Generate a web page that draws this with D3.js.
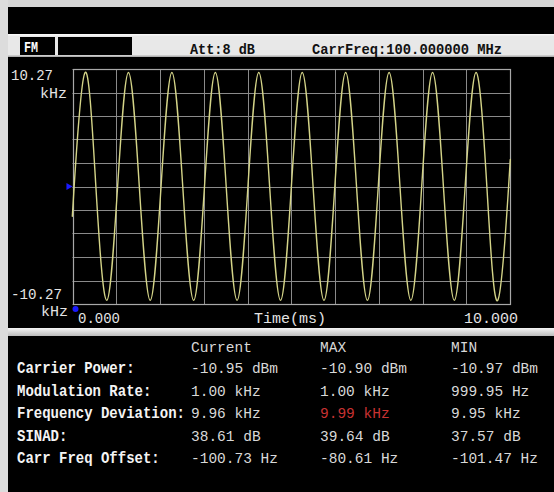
<!DOCTYPE html>
<html><head><meta charset="utf-8">
<script src="https://cdn.jsdelivr.net/npm/d3@7"></script>
<style>html,body{margin:0;padding:0;background:#000;}svg{display:block;}</style>
</head><body>
<script>
// ---- data ----
const timeMs = [0.000,0.038,0.286,0.534,0.783,1.031,1.279,1.527,1.776,2.024,2.272,2.520,2.769,3.017,3.265,3.513,3.762,4.010,4.258,4.506,4.755,5.003,5.251,5.499,5.748,5.996,6.244,6.492,6.741,6.989,7.237,7.485,7.734,7.982,8.230,8.478,8.727,8.975,9.223,9.471,9.720,9.968,10.000];
const devKHz = [-2.40,0,9.96,0,-9.95,0,9.96,0,-9.95,0,9.96,0,-9.95,0,9.96,0,-9.95,0,9.96,0,-9.95,0,9.96,0,-9.95,0,9.96,0,-9.95,0,9.96,0,-9.95,0,9.96,0,-9.95,0,9.96,0,-9.95,0,2.00];
const xDomain = [0, 10];
const yDomain = [-10.27, 10.27];
const xTickLabels = ["0.000", "10.000"];
const yTickLabels = ["10.27", "-10.27"];
const xAxisTitle = "Time(ms)";
const yUnit = "kHz";
const headerMode = "FM";
const headerAtt = "Att:8 dB";
const headerFreq = "CarrFreq:100.000000 MHz";
const colHeaders = ["Current", "MAX", "MIN"];
const rowLabels = ["Carrier Power:", "Modulation Rate:", "Frequency Deviation:", "SINAD:", "Carr Freq Offset:"];
const currentVals = ["-10.95 dBm", "1.00 kHz", "9.96 kHz", "38.61 dB", "-100.73 Hz"];
const maxVals = ["-10.90 dBm", "1.00 kHz", "9.99 kHz", "39.64 dB", "-80.61 Hz"];
const minVals = ["-10.97 dBm", "999.95 Hz", "9.95 kHz", "37.57 dB", "-101.47 Hz"];
const highlight = {row: 2, col: 1};

// ---- drawing ----
const W = 554, H = 492;
const svg = d3.select("body").append("svg").attr("width", W).attr("height", H);
const MONO = "'Liberation Mono','DejaVu Sans Mono',monospace";

svg.append("rect").attr("width", W).attr("height", H).attr("fill", "#000");
svg.append("rect").attr("x", 0).attr("y", 0).attr("width", W).attr("height", 7).attr("fill", "#d6d6d6");
svg.append("rect").attr("x", 0).attr("y", 0).attr("width", 8).attr("height", H).attr("fill", "#dcdcdc");
// header bar
svg.append("rect").attr("x", 8).attr("y", 34).attr("width", W - 8).attr("height", 23).attr("fill", "#e8e8e8");
svg.append("rect").attr("x", 8).attr("y", 34).attr("width", W - 8).attr("height", 1.5).attr("fill", "#f8f8f8");
svg.append("rect").attr("x", 8).attr("y", 55.5).attr("width", W - 8).attr("height", 1.5).attr("fill", "#b0b0b0");
svg.append("rect").attr("x", 20).attr("y", 37).attr("width", 35).attr("height", 18).attr("fill", "#000");
svg.append("rect").attr("x", 58).attr("y", 37).attr("width", 74).attr("height", 18).attr("fill", "#000");
svg.append("text").attr("x", 24).attr("y", 52).text(headerMode)
  .attr("font-family", MONO).attr("font-weight", "bold").attr("font-size", 14).attr("fill", "#fff")
  .attr("textLength", 14).attr("lengthAdjust", "spacingAndGlyphs");
svg.append("text").attr("x", 190).attr("y", 54).text(headerAtt)
  .attr("font-family", MONO).attr("font-weight", "bold").attr("font-size", 15).attr("fill", "#111")
  .attr("textLength", 65).attr("lengthAdjust", "spacingAndGlyphs");
svg.append("text").attr("x", 312).attr("y", 54).text(headerFreq)
  .attr("font-family", MONO).attr("font-weight", "bold").attr("font-size", 15).attr("fill", "#111")
  .attr("textLength", 190).attr("lengthAdjust", "spacingAndGlyphs");

// separator between plot and table
const sep = svg.append("defs").append("linearGradient").attr("id", "sep").attr("x1", 0).attr("x2", 0).attr("y1", 0).attr("y2", 1);
sep.append("stop").attr("offset", 0).attr("stop-color", "#f4f4f4");
sep.append("stop").attr("offset", 1).attr("stop-color", "#bcbcbc");
svg.append("rect").attr("x", 8).attr("y", 328).attr("width", W - 8).attr("height", 8).attr("fill", "url(#sep)");

// plot
const x = d3.scaleLinear().domain(xDomain).range([72.5, 510]);
const y = d3.scaleLinear().domain(yDomain).range([304, 69]);
const nDiv = 10;
const xGrid = d3.range(nDiv + 1).map(i => xDomain[0] + i * (xDomain[1] - xDomain[0]) / nDiv);
const yGrid = d3.range(nDiv + 1).map(i => yDomain[0] + i * (yDomain[1] - yDomain[0]) / nDiv);
const g = svg.append("g");
g.selectAll("line.vx").data(xGrid).join("line")
  .attr("x1", d => Math.round(x(d)) + 0.5).attr("x2", d => Math.round(x(d)) + 0.5)
  .attr("y1", y(yDomain[1])).attr("y2", y(yDomain[0]))
  .attr("stroke", "#8a8a8a").attr("stroke-width", 1);
g.selectAll("line.hy").data(yGrid).join("line")
  .attr("y1", d => Math.round(y(d)) + 0.5).attr("y2", d => Math.round(y(d)) + 0.5)
  .attr("x1", x(xDomain[0])).attr("x2", x(xDomain[1]))
  .attr("stroke", "#8a8a8a").attr("stroke-width", 1);
g.append("rect").attr("x", Math.round(x(0)) + 0.5).attr("y", Math.round(y(yDomain[1])) + 0.5)
  .attr("width", Math.round(x(10)) - Math.round(x(0))).attr("height", Math.round(y(yDomain[0])) - Math.round(y(yDomain[1])))
  .attr("fill", "none").attr("stroke", "#a8a8a8").attr("stroke-width", 1.2);

const line = d3.line().x((d, i) => x(timeMs[i])).y(d => y(d)).curve(d3.curveNatural);
g.append("path").attr("d", line(devKHz)).attr("fill", "none")
  .attr("stroke", "#d4d488").attr("stroke-width", 1.4);

// markers
g.append("path").attr("d", d3.symbol(d3.symbolTriangle, 22)())
  .attr("transform", `translate(${x(0) - 4},${y(0)}) rotate(90)`).attr("fill", "#1a1aff");
g.append("circle").attr("cx", x(0) + 3).attr("cy", y(yDomain[0]) + 5).attr("r", 3).attr("fill", "#1a1aff");

// axis labels
const labelStyle = sel => sel.attr("font-family", MONO).attr("font-size", 15).attr("fill", "#e4e4e4");
labelStyle(svg.append("text").attr("x", 11).attr("y", 80).text(yTickLabels[0]).attr("textLength", 42).attr("lengthAdjust", "spacingAndGlyphs"));
labelStyle(svg.append("text").attr("x", 67).attr("y", 98).attr("text-anchor", "end").text(yUnit));
labelStyle(svg.append("text").attr("x", 11).attr("y", 299).text(yTickLabels[1]).attr("textLength", 51).attr("lengthAdjust", "spacingAndGlyphs"));
labelStyle(svg.append("text").attr("x", 68).attr("y", 316).attr("text-anchor", "end").text(yUnit));
labelStyle(svg.append("text").attr("x", 78).attr("y", 323).text(xTickLabels[0]).attr("textLength", 42).attr("lengthAdjust", "spacingAndGlyphs"));
labelStyle(svg.append("text").attr("x", 518).attr("y", 323).attr("text-anchor", "end").text(xTickLabels[1]));
labelStyle(svg.append("text").attr("x", 290).attr("y", 323).attr("text-anchor", "middle").text(xAxisTitle));

// table
const colX = [191, 320, 451];
const rowY = [373, 396, 418, 441, 463];
colHeaders.forEach((h, i) => {
  svg.append("text").attr("x", colX[i]).attr("y", 352).text(h)
    .attr("font-family", MONO).attr("font-size", 14.5).attr("fill", "#d8d8d8");
});
rowLabels.forEach((l, r) => {
  svg.append("text").attr("x", 0).attr("y", 0).text(l)
    .attr("transform", `translate(17,${rowY[r]}) scale(1,1.15)`)
    .attr("font-family", MONO).attr("font-weight", "bold").attr("font-size", 14).attr("fill", "#f4f4f4");
});
[currentVals, maxVals, minVals].forEach((col, c) => {
  col.forEach((v, r) => {
    const red = (r === highlight.row && c === highlight.col);
    svg.append("text").attr("x", colX[c]).attr("y", rowY[r]).text(v)
      .attr("font-family", MONO).attr("font-size", 14.5)
      .attr("fill", red ? "#c83232" : "#d8d8d8");
  });
});
</script>
</body></html>
